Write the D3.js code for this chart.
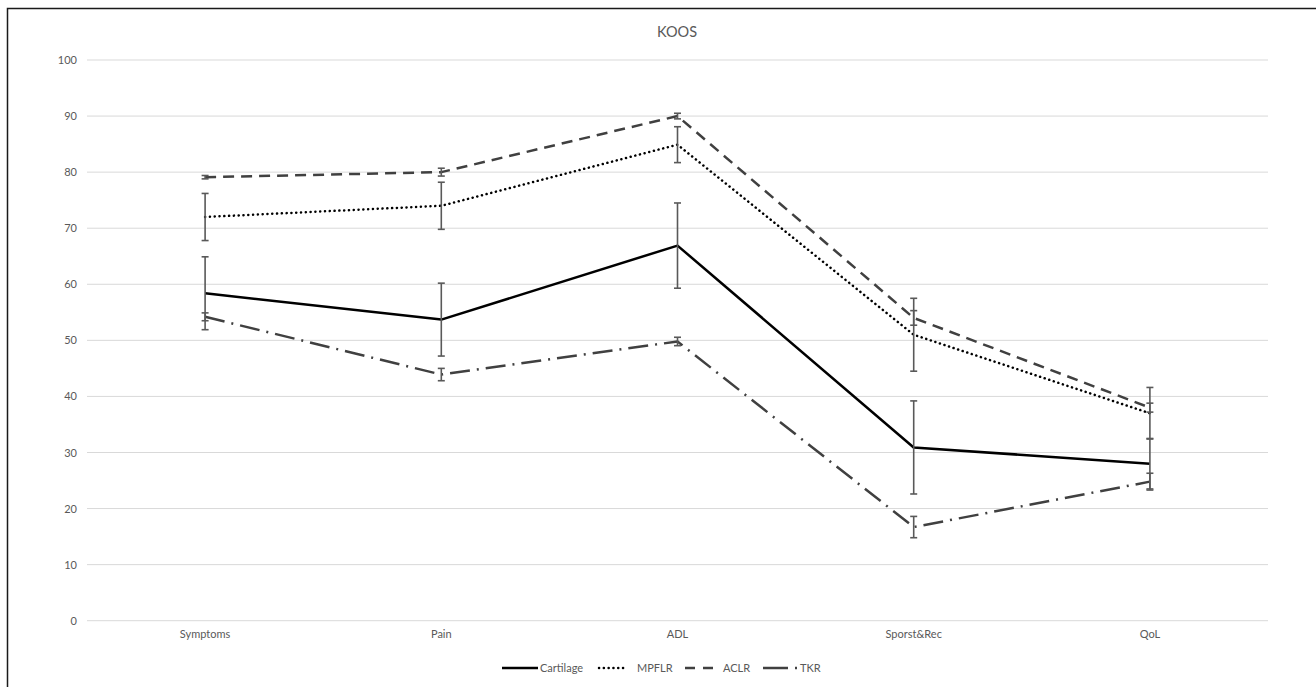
<!DOCTYPE html>
<html><head><meta charset="utf-8">
<script src="https://cdn.jsdelivr.net/npm/d3@7"></script>
<style>body{margin:0;background:#fff;} text{font-family:Lato,"Open Sans",sans-serif;}</style>
</head><body><svg id="c" width="1316" height="687"></svg>
<script>
const categories = ["Symptoms","Pain","ADL","Sporst&Rec","QoL"];
const yTicks = [0,10,20,30,40,50,60,70,80,90,100];
const cartilage = [58.4,53.7,66.9,30.9,28.0];
const cartilageErr = [6.5,6.5,7.6,8.3,4.5];
const mpflr = [72.0,74.0,84.9,51.0,37.0];
const mpflrErr = [4.2,4.2,3.2,6.5,4.6];
const aclr = [79.1,80.0,90.0,54.0,38.0];
const aclrErr = [0.3,0.7,0.5,1.3,0.8];
const tkr = [54.2,43.9,49.8,16.7,24.8];
const tkrErr = [0.7,1.1,0.75,1.9,1.5];

const series = [
  {name:"Cartilage", values:cartilage, err:cartilageErr, color:"#000000", dash:null, cap:"butt"},
  {name:"MPFLR", values:mpflr, err:mpflrErr, color:"#000000", dash:"0.1 4.7", cap:"round"},
  {name:"ACLR", values:aclr, err:aclrErr, color:"#404040", dash:"11 7", cap:"butt"},
  {name:"TKR", values:tkr, err:tkrErr, color:"#404040", dash:"20 7 2 7", cap:"butt"}
];

const svg = d3.select("#c");
svg.append("rect").attr("x",7.5).attr("y",8.5).attr("width",1330).attr("height",700)
  .attr("fill","none").attr("stroke","#1a1a1a").attr("stroke-width",1.5);

const x = d3.scaleBand().domain(categories).range([87,1268]);
const y = d3.scaleLinear().domain([0,100]).range([620.7,60]);

// gridlines
svg.append("g").selectAll("line").data(yTicks).join("line")
  .attr("x1",87).attr("x2",1268).attr("y1",d=>y(d)).attr("y2",d=>y(d))
  .attr("stroke","#d9d9d9").attr("stroke-width",1);

// y axis labels
const ya = svg.append("g").attr("transform","translate(87,0)")
  .call(d3.axisLeft(y).tickValues(yTicks).tickSize(0).tickPadding(10));
ya.select(".domain").remove();
ya.selectAll("text").attr("fill","#595959").style("font-size","11px").style("font-family","Lato,sans-serif");

// x axis labels
const xa = svg.append("g").attr("transform","translate(0,620.7)")
  .call(d3.axisBottom(x).tickSize(0).tickPadding(10));
xa.select(".domain").remove();
xa.selectAll("text").attr("fill","#595959").style("font-size","11px").style("font-family","Lato,sans-serif");

// title
svg.append("text").attr("x",677).attr("y",37).attr("text-anchor","middle")
  .attr("fill","#595959").style("font-size","14.5px").text("KOOS");

const line = d3.line().x((d,i)=>x(categories[i])+x.bandwidth()/2).y(d=>y(d));

series.forEach(s=>{
  svg.append("path").datum(s.values).attr("d",line).attr("fill","none")
    .attr("stroke",s.color).attr("stroke-width",2.5)
    .attr("stroke-dasharray",s.dash).attr("stroke-linecap",s.cap).attr("stroke-linejoin","round");
});

// error bars
series.forEach(s=>{
  const g = svg.append("g").attr("stroke","#595959").attr("stroke-width",1.6);
  s.values.forEach((v,i)=>{
    const cx = x(categories[i])+x.bandwidth()/2;
    const y1 = y(v+s.err[i]), y2 = y(v-s.err[i]);
    g.append("line").attr("x1",cx).attr("x2",cx).attr("y1",y1).attr("y2",y2);
    g.append("line").attr("x1",cx-3.5).attr("x2",cx+3.5).attr("y1",y1).attr("y2",y1);
    g.append("line").attr("x1",cx-3.5).attr("x2",cx+3.5).attr("y1",y2).attr("y2",y2);
  });
});

// legend
const legendItems = [
  {s:series[0], x0:502, x1:538, tx:540},
  {s:series[1], x0:599, x1:626, tx:637},
  {s:series[2], x0:685, x1:717, tx:723},
  {s:series[3], x0:763, x1:797, tx:800}
];
const ly = 668;
legendItems.forEach(it=>{
  svg.append("line").attr("x1",it.x0).attr("x2",it.x1).attr("y1",ly).attr("y2",ly)
    .attr("stroke",it.s.color).attr("stroke-width",2.5)
    .attr("stroke-dasharray",it.s.name==="TKR"?"25 7 2 7":(it.s.name==="ACLR"?"10 8":it.s.dash))
    .attr("stroke-linecap",it.s.cap);
  svg.append("text").attr("x",it.tx).attr("y",ly+4).attr("fill","#595959")
    .style("font-size","11px").text(it.s.name);
});
</script></body></html>
